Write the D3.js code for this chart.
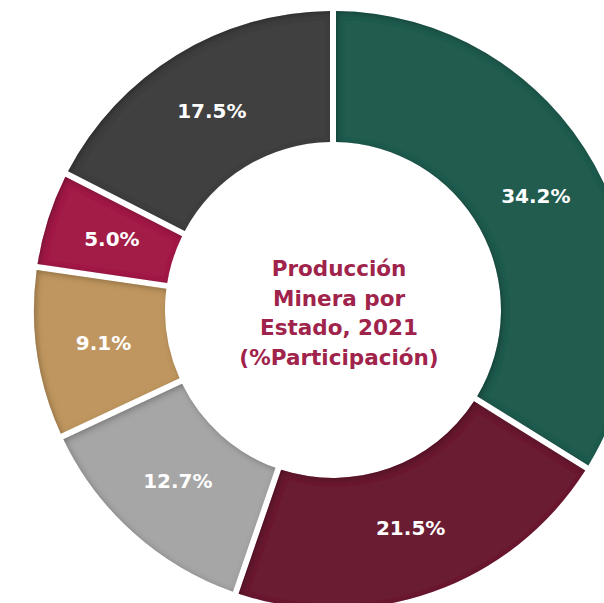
<!DOCTYPE html>
<html>
<head>
<meta charset="utf-8">
<script src="https://cdn.jsdelivr.net/npm/d3@7"></script>
<style>
  html, body { margin: 0; padding: 0; background: #ffffff; overflow: hidden; }
  svg { display: block; }
</style>
</head>
<body>
<svg id="chart" width="604" height="603"></svg>
<script>
const categories = ["A", "B", "C", "D", "E", "F"];
const values = [34.2, 21.5, 12.7, 9.1, 5.0, 17.5];
const labels = ["34.2%", "21.5%", "12.7%", "9.1%", "5.0%", "17.5%"];
const colors = ["#245b4f", "#6a1b32", "#a6a6a6", "#bf965f", "#a31f47", "#404040"];
const titleLines = ["Producción", "Minera por", "Estado, 2021", "(%Participación)"];

const svg = d3.select("#chart");
const cx = 333, cy = 310, outerR = 299, innerR = 168;

const defs = svg.append("defs");
const f = defs.append("filter").attr("id", "inset")
  .attr("x", "-10%").attr("y", "-10%").attr("width", "120%").attr("height", "120%");
f.append("feComponentTransfer").attr("in", "SourceAlpha").attr("result", "inv")
  .append("feFuncA").attr("type", "table").attr("tableValues", "1 0");
f.append("feGaussianBlur").attr("in", "inv").attr("stdDeviation", 3).attr("result", "blur");
f.append("feOffset").attr("in", "blur").attr("dx", 2).attr("dy", 2).attr("result", "off");
f.append("feFlood").attr("flood-color", "#000").attr("flood-opacity", 0.5).attr("result", "col");
f.append("feComposite").attr("in", "col").attr("in2", "off").attr("operator", "in").attr("result", "sh");
f.append("feComposite").attr("in", "sh").attr("in2", "SourceAlpha").attr("operator", "in").attr("result", "shin");
const m = f.append("feMerge");
m.append("feMergeNode").attr("in", "SourceGraphic");
m.append("feMergeNode").attr("in", "shin");

const pie = d3.pie().sort(null).value(d => d)
  .padAngle(6 / 300);
const arc = d3.arc().innerRadius(innerR).outerRadius(outerR).padRadius(300);
const labelArc = d3.arc().innerRadius(232).outerRadius(232);

const arcs = pie(values);
const g = svg.append("g").attr("transform", `translate(${cx},${cy})`);

g.selectAll("path").data(arcs).join("path")
  .attr("d", arc)
  .attr("fill", (d, i) => colors[i])
  .attr("filter", "url(#inset)");

g.selectAll("text.lbl").data(arcs).join("text")
  .attr("class", "lbl")
  .attr("transform", d => `translate(${labelArc.centroid(d)})`)
  .attr("text-anchor", "middle")
  .attr("dy", "0.3em")
  .attr("fill", "#ffffff")
  .attr("font-family", "'DejaVu Sans', sans-serif")
  .attr("font-weight", "bold")
  .attr("font-size", 20)
  .text((d, i) => labels[i]);

const title = g.append("text")
  .attr("text-anchor", "middle")
  .attr("fill", "#a0234b")
  .attr("font-family", "'DejaVu Sans', sans-serif")
  .attr("font-weight", "bold")
  .attr("font-size", 21.5);
titleLines.forEach((t, i) => {
  title.append("tspan").attr("x", 6).attr("y", -34 + i * 29.5).text(t);
});
</script>
</body>
</html>
